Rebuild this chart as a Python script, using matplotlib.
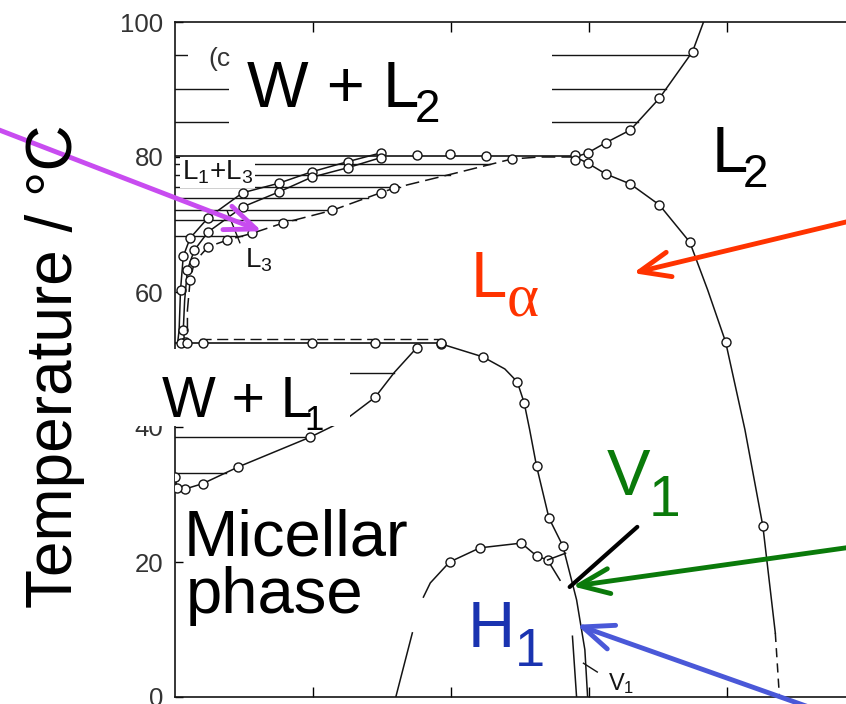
import matplotlib
matplotlib.use("Agg")
import matplotlib.pyplot as plt
import numpy as np
from matplotlib.patches import Rectangle

plt.rcParams["font.family"] = ["Liberation Sans", "DejaVu Sans"]
plt.rcParams["mathtext.fontset"] = "custom"
plt.rcParams["mathtext.rm"] = "Liberation Sans"
plt.rcParams["mathtext.it"] = "Liberation Sans:italic"
plt.rcParams["mathtext.bf"] = "Liberation Sans:bold"

# composition axis: wt% surfactant, temperature axis: deg C
y_ticks = [0, 20, 40, 60, 80, 100]
x_ticks = [10, 20, 30, 40]

# W + L2 / L2 boundary
l2_top_x = [38.3, 37.5, 35.1, 33.0, 31.2, 29.9, 29.0]
l2_top_t = [100.0, 95.6, 88.7, 84.0, 82.1, 80.6, 80.0]
l2_top_marks = [1, 2, 3, 4, 5]

# L_alpha / L2 boundary
la_l2_x = [29.0, 29.9, 31.2, 33.0, 35.1, 37.3, 38.6, 39.9, 41.3, 42.6, 43.5]
la_l2_t = [80.0, 79.1, 77.5, 76.0, 72.9, 67.4, 60.3, 52.6, 39.6, 25.3, 9.5]
la_l2_marks = [1, 2, 3, 4, 5, 7, 9]
la_l2_tail_x = [43.5, 43.8]
la_l2_tail_t = [9.5, 0.0]

# three-phase line at 80 C
t_upper3 = 80.2
upper3_end = 29.0
upper3_pts_x = [17.5, 19.9, 22.5, 29.0, 29.0]
upper3_pts_t = [80.3, 80.4, 80.2, 80.3, 79.6]

# L1+L3 region, outer and inner branches
a_x = [14.9, 12.5, 9.9, 7.5, 4.9, 2.4, 1.1, 0.6, 0.4, 0.3, 0.2]
a_t = [80.6, 79.3, 77.8, 76.1, 74.7, 71.0, 68.0, 65.3, 60.3, 54.4, 52.6]
a_marks = [0, 1, 2, 3, 4, 5, 6, 7, 8]
b_x = [14.9, 12.5, 9.9, 7.5, 4.9, 2.4, 1.4, 0.9, 0.7, 0.6, 0.7]
b_t = [79.9, 78.4, 77.0, 74.8, 72.6, 68.9, 66.2, 63.3, 58.8, 54.4, 52.6]
b_marks = [0, 1, 2, 3, 4, 5, 6, 7, 9, 10]

# L3 / L_alpha boundary (dashed)
c_x = [29.0, 26.4, 24.4, 20.7, 15.9, 14.9, 11.4, 7.8, 5.6, 3.8, 2.4, 1.4, 1.1, 0.9, 0.9]
c_t = [80.0, 80.0, 79.7, 77.8, 75.4, 74.7, 72.1, 70.2, 68.7, 67.7, 66.7, 64.4, 61.8, 57.3, 52.9]
c_marks = [2, 4, 5, 6, 7, 8, 9, 10, 11, 12]
l13_ties = [78.9, 77.4, 75.6, 74.0, 72.2, 70.7, 68.3]

# W + L2 tie lines
wl2_ties = [95.1, 90.1, 85.2]

# lower three-phase line
t_lower3 = 52.4
t_lower3_dash = 53.1
lower3_end = 19.3
lower3_dash_start = 1.8
lower3_pts_x = [0.4, 0.9, 2.0, 9.9, 14.5, 19.3]

# L_alpha / L1 boundary down to V1
lb_x = [19.3, 22.3, 23.9, 24.8, 25.3, 25.7, 26.2, 27.1, 28.1, 29.1, 29.7, 29.9]
lb_t = [52.3, 50.4, 48.6, 46.7, 43.6, 39.6, 34.2, 26.5, 22.4, 14.4, 7.0, 0.0]
lb_marks = [0, 1, 3, 4, 6, 7, 8]

# W + L1 / L1 boundary
w1_x = [17.5, 15.9, 14.5, 12.3, 9.8, 4.6, 2.0, 0.7, 0.15, 0.0]
w1_t = [51.7, 48.1, 44.4, 41.0, 38.5, 34.1, 31.6, 30.8, 31.0, 32.6]
w1_marks = [0, 2, 4, 5, 6, 7, 8, 9]
wl1_ties = [48.0, 38.5, 33.2]

# H1 dome
h1_left_x = [16.0, 17.2]
h1_left_t = [0.0, 9.5]
h1_arc_x = [18.0, 18.5, 19.9, 22.1, 25.1, 26.2, 27.0, 27.9]
h1_arc_t = [14.8, 16.9, 20.0, 22.1, 22.8, 20.9, 20.3, 17.3]
h1_arc_marks = [2, 3, 4, 5, 6]
h1_right_x = [28.8, 29.1]
h1_right_t = [9.0, 0.0]
v1_tie_x = [27.0, 28.3]
v1_tie_t = [20.3, 21.3]

INK = "#141414"
RED = "#ff3300"
GREEN = "#0a7a0a"
BLUE_TXT = "#1a33b0"
BLUE_ARR = "#4a58d8"
MAGENTA = "#c84cf0"

fig = plt.figure(figsize=(8.46, 7.04), dpi=100)
ax = fig.add_axes([175 / 846, 7 / 704, 1 - 175 / 846, 675 / 704])
ax.set_xlim(0, 671 / 13.8)
ax.set_ylim(0, 100)


def boundary(xs, ts, marks=None, dashes=None, lw=1.1):
    ls = (0, dashes) if dashes else "-"
    ax.plot(xs, ts, color=INK, lw=lw, ls=ls,
            marker="o" if marks else None, markevery=marks,
            ms=6.5, mfc="white", mec=INK, mew=1.0, zorder=3)


def points(xs, ts):
    ax.plot(xs, ts, ls="none", marker="o", ms=6.5, mfc="white",
            mec=INK, mew=1.0, zorder=4)


def ties(temps, xs, ts):
    xp = np.asarray(ts)[::-1]
    fp = np.asarray(xs)[::-1]
    for t in temps:
        ax.plot([0, np.interp(t, xp, fp)], [t, t], color=INK, lw=1.0, zorder=2.8)


def sub_text(x, y, main, sub, size, sub_size, color, dx, dy, sub_family=None):
    t = ax.text(x, y, main, fontsize=size, color=color, ha="left",
                va="baseline", zorder=6)
    kw = {"family": sub_family} if sub_family else {}
    ax.annotate(sub, xy=(1, 0), xycoords=t, xytext=(dx, dy),
                textcoords="offset points", fontsize=sub_size, color=color,
                ha="left", va="baseline", zorder=6, **kw)


def arrow(tip, tail, color, lw=3.5, style="->,head_length=1.1,head_width=0.45"):
    ax.annotate("", xy=tip, xytext=tail, annotation_clip=False,
                arrowprops=dict(arrowstyle=style, color=color, lw=lw,
                                shrinkA=0, shrinkB=0, mutation_scale=20),
                zorder=8)


# tie lines
ties(wl2_ties, l2_top_x, l2_top_t)
ties(l13_ties, c_x, c_t)
ties(wl1_ties, w1_x[:7], w1_t[:7])

# phase boundaries
boundary(l2_top_x, l2_top_t, l2_top_marks)
boundary(la_l2_x, la_l2_t, la_l2_marks)
boundary(la_l2_tail_x, la_l2_tail_t, dashes=(6, 4))
ax.plot([0, upper3_end], [t_upper3, t_upper3], color=INK, lw=1.2, zorder=3)
points(upper3_pts_x, upper3_pts_t)
boundary(a_x, a_t, a_marks)
boundary(b_x, b_t, b_marks)
boundary(c_x, c_t, c_marks, dashes=(9, 4))
ax.plot([0, lower3_end], [t_lower3, t_lower3], color=INK, lw=1.2, zorder=3)
ax.plot([lower3_dash_start, lower3_end], [t_lower3_dash, t_lower3_dash],
        color=INK, lw=1.0, ls=(0, (8, 4)), zorder=3)
points(lower3_pts_x, [t_lower3] * len(lower3_pts_x))
boundary(lb_x, lb_t, lb_marks)
boundary(w1_x, w1_t, w1_marks)
boundary(h1_left_x, h1_left_t)
boundary(h1_arc_x, h1_arc_t, h1_arc_marks)
boundary(h1_right_x, h1_right_t)
boundary(v1_tie_x, v1_tie_t)

# white patches behind the big labels
for (x0, y0, w, h) in [(0.95, 93.3, 2.95, 3.7), (3.9, 84.0, 23.4, 13.0),
                       (-4.7, 40.1, 17.4, 11.4)]:
    ax.add_patch(Rectangle((x0, y0), w, h, facecolor="white", edgecolor="none",
                           zorder=5, clip_on=False))

# small labels from the original scan
ax.text(2.4, 93.5, "(c", fontsize=19, color="#333333", zorder=5.5)
ax.text(0.5, 76.6, r"L$_1$+L$_3$", fontsize=20, color=INK, zorder=4,
        bbox=dict(facecolor="white", edgecolor="none", pad=1.5))
ax.text(5.1, 63.7, r"L$_3$", fontsize=20, color=INK, zorder=4)
ax.plot([3.8, 4.7], [71.9, 67.3], color=INK, lw=1.0, zorder=3)
ax.text(31.4, 1.0, r"V$_1$", fontsize=17, color=INK, zorder=4)
ax.plot([29.6, 30.6], [5.0, 3.7], color=INK, lw=1.0, zorder=3)

# big labels
sub_text(5.2, 87.4, "W + L", "2", 47, 33, "black", -3, -1.5)
sub_text(38.9, 77.8, "L", "2", 47, 33, "black", -4, -1.5)
sub_text(21.4, 59.3, "L", "α", 47, 44, RED, 0, -4.5, sub_family="Liberation Serif")
sub_text(-0.94, 41.5, "W + L", "1", 41, 25, "black", -6, -1)
ax.text(0.65, 21.0, "Micellar", fontsize=47, color="black", zorder=6)
ax.text(0.8, 12.4, "phase", fontsize=47, color="black", zorder=6)
sub_text(21.2, 7.4, "H", "1", 47, 39, BLUE_TXT, 0, -4.4)
sub_text(31.3, 29.9, "V", "1", 47, 41, GREEN, -1, -5.8)

# pointers
arrow((6.3, 69.0), (-13.5, 84.6), MAGENTA)
arrow((33.2, 62.8), (49.5, 70.8), RED)
arrow((28.8, 16.4), (49.5, 22.35), GREEN)
arrow((29.1, 10.7), (46.5, -1.9), BLUE_ARR)
arrow((28.6, 16.3), (33.5, 25.2), "black", lw=3, style="-")

# axes frame and ticks
ax.spines["right"].set_visible(False)
for s in ["left", "top", "bottom"]:
    ax.spines[s].set_linewidth(1.2)
    ax.spines[s].set_color(INK)
ax.set_yticks(y_ticks)
ax.set_xticks(x_ticks)
ax.tick_params(axis="y", direction="in", length=6, width=1.0, labelsize=18.5,
               labelcolor="#333333", pad=8.5, right=False)
ax.tick_params(axis="x", direction="in", length=7, width=1.0, top=True,
               bottom=True, labelbottom=False)

fig.text(55 / 846, 1 - 366 / 704, "Temperature / °C", rotation=90,
         fontsize=46, ha="center", va="center", color="black")

fig.savefig("out.png", dpi=100, facecolor="white")
